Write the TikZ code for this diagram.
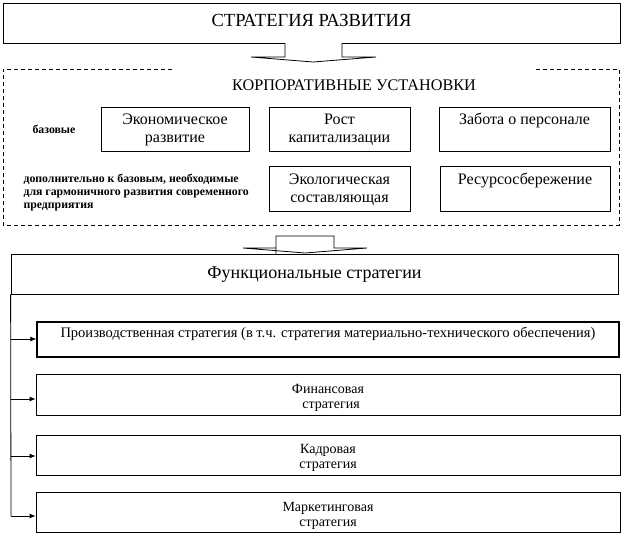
\documentclass[tikz,border=0pt]{standalone}
\usepackage{fontspec}
\setmainfont{Liberation Serif}
\usetikzlibrary{arrows.meta}
\begin{document}
\begin{tikzpicture}[x=1pt,y=-1pt,
  box/.style={draw,line width=0.8pt,inner sep=0pt},
  thickbox/.style={draw,line width=1.4pt,inner sep=0pt},
  blockarrow/.style={draw,line width=0.8pt,fill=white,line join=miter},
  frame/.style={draw,line width=0.8pt,dash pattern=on 4pt off 3pt},
  conn/.style={line width=0.8pt,-{Latex[length=6pt,width=5pt]}},
  big/.style={font=\fontsize{18.5}{22}\selectfont,anchor=base},
  txt/.style={font=\fontsize{16}{19}\selectfont,anchor=base},
  ftxt/.style={font=\fontsize{14}{16}\selectfont,anchor=base},
  small/.style={font=\fontsize{11.8}{14}\selectfont\bfseries,anchor=base west}]
\useasboundingbox (0,0) rectangle (624,539);
% top box
\node[box,minimum width=617pt,minimum height=40pt] (top) at (311.5,23) {};
\node[big] (toptxt) at (311.5,26) {СТРАТЕГИЯ РАЗВИТИЯ};
% first block arrow
\draw[blockarrow] (285,43) -- (285,57) -- (251,57) -- (313,62) -- (376,57) -- (342,57) -- (342,43);
% dashed frame
\draw[frame] (172,69) -- (3,69) -- (3,225) -- (619,225) -- (619,69) -- (535,69);
\node[big,font=\fontsize{16.2}{20}\selectfont] (corp) at (354,90) {КОРПОРАТИВНЫЕ УСТАНОВКИ};
% corporate boxes
\node[box,minimum width=148pt,minimum height=44pt] (eco) at (175,129) {};
\node[box,minimum width=141pt,minimum height=44pt] (rost) at (339.5,129) {};
\node[box,minimum width=171pt,minimum height=44pt] (zab) at (524.5,129) {};
\node[box,minimum width=141pt,minimum height=45pt] (ecol) at (339.5,188.5) {};
\node[box,minimum width=170pt,minimum height=45pt] (res) at (525,188.5) {};
\node[txt] (ecoA) at (175,124) {Экономическое};
\node[txt] (ecoB) at (175,142) {развитие};
\node[txt] (rostA) at (339.5,124) {Рост};
\node[txt] (rostB) at (339.5,142) {капитализации};
\node[txt] (zabA) at (524.5,124) {Забота о персонале};
\node[txt] (ecolA) at (339.5,184) {Экологическая};
\node[txt] (ecolB) at (339.5,202) {составляющая};
\node[txt] (resA) at (525,184) {Ресурсосбережение};
\node[small] (baz) at (29,133) {базовые};
\node[small] (addA) at (20,182) {дополнительно к базовым, необходимые};
\node[small] (addB) at (20,195) {для гармоничного развития современного};
\node[small] (addC) at (20,208) {предприятия};
% second block arrow
\draw[blockarrow] (276,254) -- (276,248) -- (243,248) -- (305,253) -- (367,248) -- (334,248) -- (334,236) -- (276,236) -- cycle;
% functional strategies
\node[box,minimum width=607pt,minimum height=40pt] (func) at (314.5,274) {};
\node[big,font=\fontsize{18}{22}\selectfont] (functxt) at (314.5,278) {Функциональные стратегии};
\node[thickbox,minimum width=582pt,minimum height=35pt] (prod) at (328,339.5) {};
\node[txt,font=\fontsize{14.5}{17}\selectfont] (prodtxt) at (328,337.5) {Производственная стратегия (в т.ч. стратегия материально-технического обеспечения)};
\node[box,minimum width=584pt,minimum height=41pt] (fin) at (328,394.5) {};
\node[box,minimum width=584pt,minimum height=40pt] (kadr) at (328,455) {};
\node[box,minimum width=584pt,minimum height=40pt] (mark) at (328,512) {};
\node[ftxt] (finA) at (328,393) {Финансовая};
\node[ftxt] (finB) at (331,408.5) {стратегия};
\node[ftxt] (kadrA) at (328,453) {Кадровая};
\node[ftxt] (kadrB) at (328,468) {стратегия};
\node[ftxt] (markA) at (328,511) {Маркетинговая};
\node[ftxt] (markB) at (328,526) {стратегия};
% connectors
\coordinate (b1) at (11,339);
\coordinate (b2) at (11,399);
\coordinate (b3) at (11,456);
\coordinate (b4) at (11,516);
\draw[line width=0.8pt] (func.south west) -- (b4);
\draw[conn] (b1) -- (b1 -| prod.west);
\draw[conn] (b2) -- (b2 -| fin.west);
\draw[conn] (b3) -- (b3 -| kadr.west);
\draw[conn] (b4) -- (b4 -| mark.west);
\end{tikzpicture}
\end{document}
